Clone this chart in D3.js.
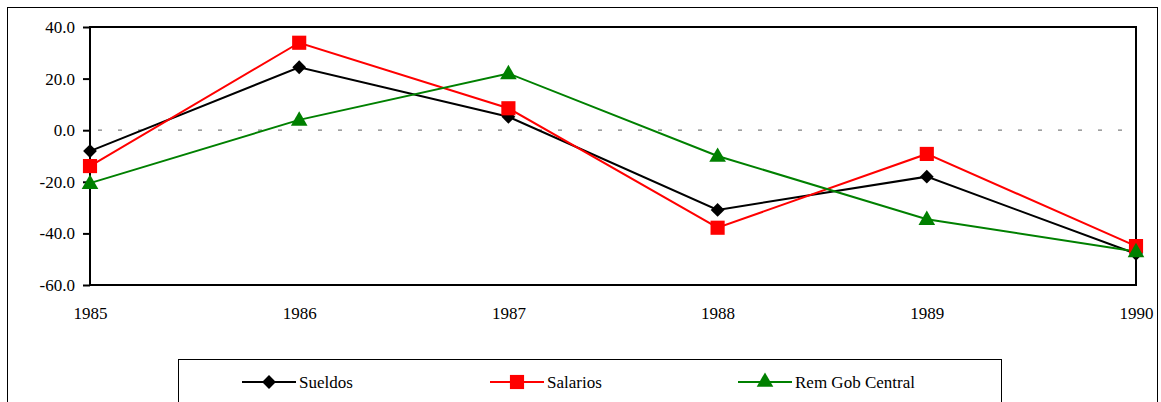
<!DOCTYPE html>
<html>
<head>
<meta charset="utf-8">
<script src="https://cdn.jsdelivr.net/npm/d3@7"></script>
<style>
  body { margin: 0; background: #fff; }
</style>
</head>
<body>
<div id="chart"></div>
<script>
// Data
const years = [1985, 1986, 1987, 1988, 1989, 1990];
const sueldos = [-8.1, 24.4, 5.2, -30.9, -18.0, -47.9];
const salarios = [-13.9, 33.9, 8.5, -37.8, -9.2, -44.9];
const remGob = [-20.5, 4.0, 22.0, -10.0, -34.5, -47.0];
const yTicks = [40, 20, 0, -20, -40, -60];

const series = [
  { name: "Sueldos", values: sueldos, color: "#000000", symbol: d3.symbolSquare, size: 95, rotate: 45 },
  { name: "Salarios", values: salarios, color: "#ff0000", symbol: d3.symbolSquare, size: 200, rotate: 0 },
  { name: "Rem Gob Central", values: remGob, color: "#008000", symbol: d3.symbolTriangle, size: 120, rotate: 0 }
];

const serif = "'Liberation Serif', 'DejaVu Serif', 'Times New Roman', serif";

const width = 1161;
const height = 402;
const svg = d3.select("#chart")
  .append("svg")
  .attr("width", width)
  .attr("height", height);

// Outer frame (bottom runs off the picture)
svg.append("rect")
  .attr("x", 7.5).attr("y", 7.5)
  .attr("width", 1150).attr("height", 420)
  .attr("fill", "none")
  .attr("stroke", "#000")
  .attr("stroke-width", 1);

// Scales
const x = d3.scaleLinear()
  .domain([1985, 1990])
  .range([90, 1136]);
const y = d3.scaleLinear()
  .domain([-60, 40])
  .range([285, 27]);

// Zero line
svg.append("line")
  .attr("x1", x(1985)).attr("x2", x(1990))
  .attr("y1", y(0)).attr("y2", y(0))
  .attr("stroke", "#808080")
  .attr("stroke-width", 1.3)
  .attr("stroke-dasharray", "4,16")
  .attr("stroke-dashoffset", -8);

// Plot frame
svg.append("rect")
  .attr("x", x(1985)).attr("y", y(40))
  .attr("width", x(1990) - x(1985))
  .attr("height", y(-60) - y(40))
  .attr("fill", "none")
  .attr("stroke", "#000")
  .attr("stroke-width", 2);

const fmt = d => d.toFixed(1);

// Y axis
const yAxis = svg.append("g")
  .attr("transform", `translate(${x(1985)}, 0)`)
  .call(d3.axisLeft(y).tickValues(yTicks).tickSize(7).tickPadding(8).tickFormat(fmt));
yAxis.select(".domain").remove();
yAxis.selectAll("line").attr("stroke-width", 2);
yAxis.selectAll("text")
  .style("font-family", serif)
  .style("font-size", "17px")
  .attr("fill", "#000");

// X axis (labels only)
const xAxis = svg.append("g")
  .attr("transform", `translate(0, ${y(-60)})`)
  .call(d3.axisBottom(x).tickValues(years).tickSize(0).tickPadding(22).tickFormat(d3.format("d")));
xAxis.select(".domain").remove();
xAxis.selectAll("text")
  .style("font-family", serif)
  .style("font-size", "17px")
  .attr("fill", "#000");

// Lines and markers
const line = d3.line()
  .x((d, i) => x(years[i]))
  .y(d => y(d));

series.forEach(s => {
  svg.append("path")
    .datum(s.values)
    .attr("d", line)
    .attr("fill", "none")
    .attr("stroke", s.color)
    .attr("stroke-width", 2);
});

series.forEach(s => {
  svg.append("g")
    .selectAll("path")
    .data(s.values)
    .enter().append("path")
    .attr("d", d3.symbol().type(s.symbol).size(s.size))
    .attr("transform", (d, i) => `translate(${x(years[i])}, ${y(d) + (s.symbol === d3.symbolTriangle ? 1 : 0)}) rotate(${s.rotate})`)
    .attr("fill", s.color);
});

// Legend
svg.append("rect")
  .attr("x", 178.5).attr("y", 359.5)
  .attr("width", 823).attr("height", 80)
  .attr("fill", "#fff")
  .attr("stroke", "#000")
  .attr("stroke-width", 1);

const legendX = [242, 490, 738];
series.forEach((s, i) => {
  const g = svg.append("g").attr("transform", `translate(${legendX[i]}, 382)`);
  g.append("line")
    .attr("x1", 0).attr("x2", 54)
    .attr("y1", 0).attr("y2", 0)
    .attr("stroke", s.color)
    .attr("stroke-width", 2);
  g.append("path")
    .attr("d", d3.symbol().type(s.symbol).size(s.size))
    .attr("transform", `translate(27, 0) rotate(${s.rotate})`)
    .attr("fill", s.color);
  g.append("text")
    .attr("x", 57)
    .attr("y", 0)
    .attr("dy", "0.35em")
    .style("font-family", serif)
    .style("font-size", "17px")
    .text(s.name);
});
</script>
</body>
</html>
